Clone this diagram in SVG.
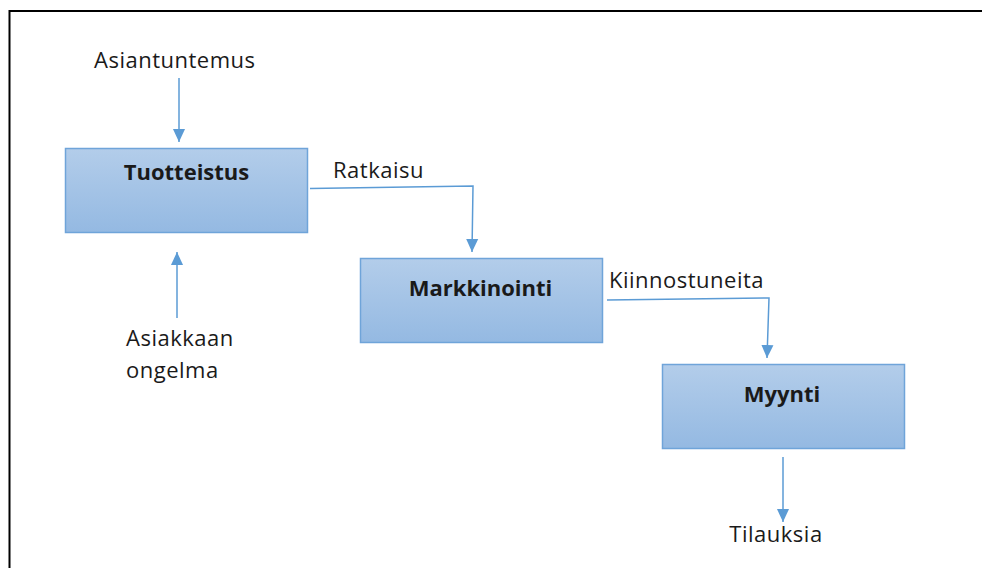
<svg xmlns="http://www.w3.org/2000/svg" width="982" height="568" viewBox="0 0 982 568">
<style>
.box{fill:url(#g);stroke:#6fa4d9;stroke-width:1.5}
.t{font-family:"Open Sans","Noto Sans",sans-serif;font-size:22px;fill:#1a1a1a;letter-spacing:0.5px}
.b{font-weight:bold;text-anchor:middle;letter-spacing:0}
.c{fill:none;stroke:#5b9bd5;stroke-width:1.5}
</style>
<defs>
<linearGradient id="g" x1="0" y1="0" x2="0" y2="1">
<stop offset="0" stop-color="#b3cdea"/>
<stop offset="1" stop-color="#94b9e2"/>
</linearGradient>
<marker id="a" markerUnits="userSpaceOnUse" markerWidth="13" markerHeight="14" refX="14" refY="6.5" orient="auto" viewBox="0 0 14 13">
<path d="M0,0 L14,6.5 L0,13 z" fill="#5b9bd5"/>
</marker>
</defs>
<path d="M982,11 H9.5 V568" fill="none" stroke="#000" stroke-width="2"/>
<g id="connectors">
<path class="c" d="M179,78 V142" marker-end="url(#a)"/>
<path class="c" d="M177,318 V252" marker-end="url(#a)"/>
<path class="c" d="M310,188.5 L473,186 L472,252" marker-end="url(#a)"/>
<path class="c" d="M607,300 L769,298 L767,358" marker-end="url(#a)"/>
<path class="c" d="M783,457 V522" marker-end="url(#a)"/>
</g>
<g id="tuotteistus">
<rect class="box" x="65.5" y="148.5" width="242" height="84"/>
<text class="t b" x="186.5" y="180">Tuotteistus</text>
</g>
<g id="markkinointi">
<rect class="box" x="360.5" y="258.5" width="242" height="84"/>
<text class="t b" x="480.5" y="296">Markkinointi</text>
</g>
<g id="myynti">
<rect class="box" x="662.5" y="364.5" width="242" height="84"/>
<text class="t b" x="782" y="402">Myynti</text>
</g>
<g id="labels">
<text class="t" x="94" y="68">Asiantuntemus</text>
<text class="t" x="333" y="178">Ratkaisu</text>
<text class="t" x="609" y="288">Kiinnostuneita</text>
<text class="t" x="126" y="346">Asiakkaan</text>
<text class="t" x="126" y="378">ongelma</text>
<text class="t" x="776" y="542" text-anchor="middle">Tilauksia</text>
</g>
</svg>
